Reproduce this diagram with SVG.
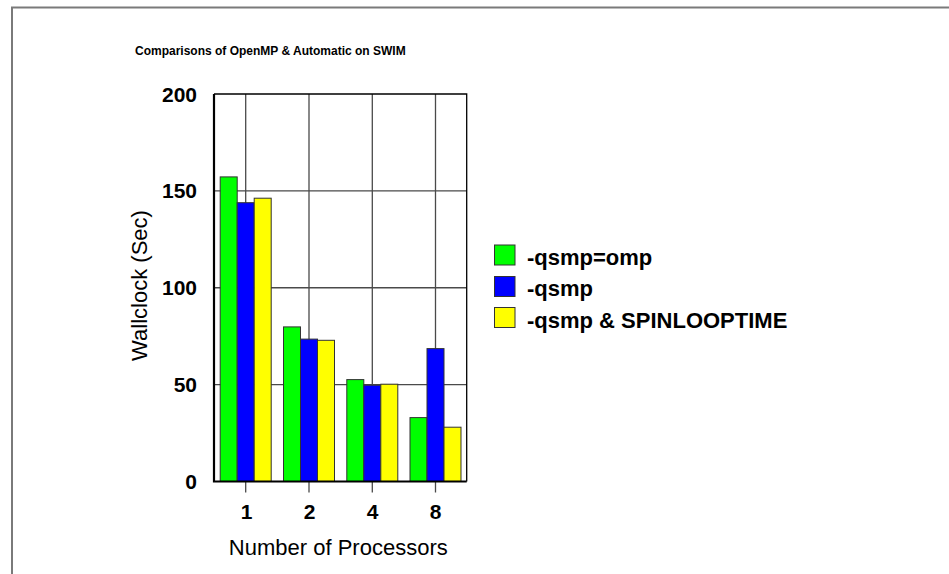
<svg xmlns="http://www.w3.org/2000/svg" width="949" height="574" viewBox="0 0 949 574">
  <style>
    text { font-family: "Liberation Sans", Arial, Helvetica, sans-serif; fill: #000; }
    .title { font-size: 12px; font-weight: bold; }
    .tick { font-size: 21px; font-weight: bold; }
    .axis-title { font-size: 22px; }
    .legend-text { font-size: 22px; font-weight: bold; }
    .grid { stroke: #4a4a4a; stroke-width: 1.3; fill: none; }
    .bar { stroke: #333; stroke-width: 1; }
    .omp { fill: #00ff00; }
    .qsmp { fill: #0000ff; }
    .spin { fill: #ffff00; }
  </style>
  <rect width="949" height="574" fill="#fff"/>

  <!-- page frame -->
  <path d="M12,574 V7.5 H949" fill="none" stroke="#7a7a7a" stroke-width="2"/>

  <text class="title" x="135" y="55">Comparisons of OpenMP &amp; Automatic on SWIM</text>

  <!-- plot grid -->
  <g id="grid">
    <path class="grid" d="M214,190.9 H466.7 M214,287.75 H466.7 M214,384.6 H466.7"/>
    <path class="grid" d="M245.7,94 V481.5 M309,94 V481.5 M372.3,94 V481.5 M435.5,94 V481.5"/>
    <path d="M214,94 H466.7 V481.5" fill="none" stroke="#000" stroke-width="1.3"/>
    <path class="grid" d="M245.7,481.5 v11 M309,481.5 v11 M372.3,481.5 v11 M435.5,481.5 v11"/>
  </g>

  <!-- bars -->
  <g id="bars">
    <g id="p1">
      <rect class="bar omp" x="220.2" y="176.9" width="17" height="304.6"/>
      <rect class="bar qsmp" x="237.2" y="202.7" width="17" height="278.8"/>
      <rect class="bar spin" x="254.2" y="198.2" width="17" height="283.3"/>
    </g>
    <g id="p2">
      <rect class="bar omp" x="283.5" y="326.9" width="17" height="154.6"/>
      <rect class="bar qsmp" x="300.5" y="339.1" width="17" height="142.4"/>
      <rect class="bar spin" x="317.5" y="340.3" width="17" height="141.2"/>
    </g>
    <g id="p4">
      <rect class="bar omp" x="346.8" y="379.6" width="17" height="101.9"/>
      <rect class="bar qsmp" x="363.8" y="385.2" width="17" height="96.3"/>
      <rect class="bar spin" x="380.8" y="384.2" width="17" height="97.3"/>
    </g>
    <g id="p8">
      <rect class="bar omp" x="410" y="417.6" width="17" height="63.9"/>
      <rect class="bar qsmp" x="427" y="348.6" width="17" height="132.9"/>
      <rect class="bar spin" x="444" y="427.2" width="17" height="54.3"/>
    </g>
  </g>

  <!-- axes -->
  <path d="M214,94 V481.5 H466.7" fill="none" stroke="#000" stroke-width="2.2"/>

  <g id="y-ticks" text-anchor="end">
    <text class="tick" x="197" y="101.5">200</text>
    <text class="tick" x="197" y="198.4">150</text>
    <text class="tick" x="197" y="295.2">100</text>
    <text class="tick" x="197" y="392.1">50</text>
    <text class="tick" x="197" y="489">0</text>
  </g>
  <g id="x-ticks" text-anchor="middle">
    <text class="tick" x="246.5" y="519">1</text>
    <text class="tick" x="309.5" y="519">2</text>
    <text class="tick" x="372.5" y="519">4</text>
    <text class="tick" x="435.5" y="519">8</text>
  </g>

  <text class="axis-title" x="338.3" y="555" text-anchor="middle">Number of Processors</text>
  <text class="axis-title" transform="translate(147,285.5) rotate(-90)" text-anchor="middle">Wallclock (Sec)</text>

  <!-- legend -->
  <g id="legend">
    <g id="legend-omp">
      <rect class="bar omp" x="494.5" y="245" width="20.5" height="20"/>
      <text class="legend-text" x="527" y="265">-qsmp=omp</text>
    </g>
    <g id="legend-qsmp">
      <rect class="bar qsmp" x="494.5" y="276.5" width="20.5" height="20"/>
      <text class="legend-text" x="527" y="296">-qsmp</text>
    </g>
    <g id="legend-spin">
      <rect class="bar spin" x="494.5" y="307.5" width="20.5" height="20"/>
      <text class="legend-text" x="527" y="327.5">-qsmp &amp; SPINLOOPTIME</text>
    </g>
  </g>
</svg>
